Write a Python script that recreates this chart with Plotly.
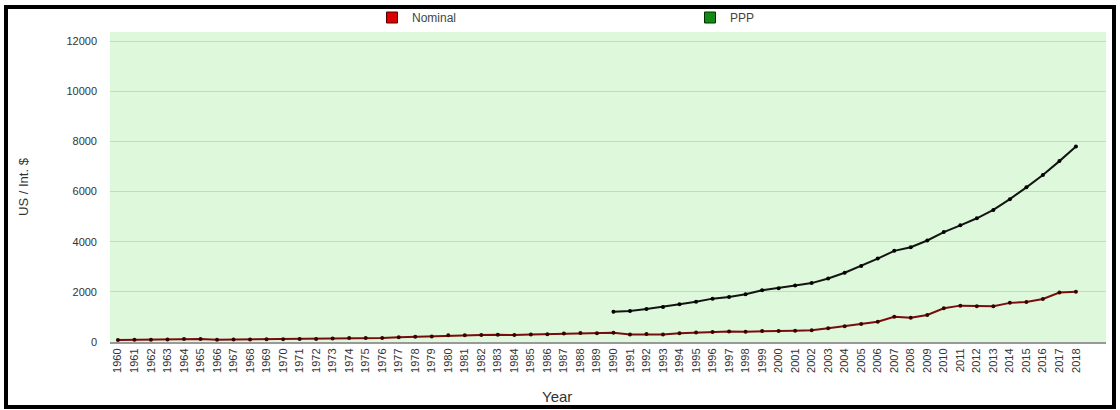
import plotly.graph_objects as go

years = list(range(1960, 2019))
nominal = [82, 85, 90, 101, 116, 119, 90, 96, 99, 107, 112, 118, 122, 143, 163, 158,
           161, 186, 205, 224, 267, 271, 275, 292, 277, 296, 310, 340, 354, 347, 368,
           303, 317, 301, 346, 374, 400, 415, 413, 442, 443, 452, 471, 547, 628, 715,
           807, 1005, 970, 1080, 1345, 1450, 1425, 1425, 1560, 1598, 1718, 1972, 2000]
ppp_years = list(range(1990, 2019))
ppp = [1206, 1234, 1314, 1395, 1503, 1608, 1729, 1797, 1905, 2066, 2147, 2251, 2348,
       2533, 2762, 3031, 3325, 3634, 3779, 4048, 4382, 4651, 4933, 5266, 5696, 6167,
       6661, 7212, 7790]
y_ticks = [0, 2000, 4000, 6000, 8000, 10000, 12000]

fig = go.Figure()
fig.add_trace(go.Scatter(x=years, y=nominal, mode="lines+markers", showlegend=False,
                         line=dict(color="#7a0c0c", width=2),
                         marker=dict(color="#3a0000", size=4)))
fig.add_trace(go.Scatter(x=ppp_years, y=ppp, mode="lines+markers", showlegend=False,
                         line=dict(color="#141414", width=2),
                         marker=dict(color="#000000", size=4)))
fig.add_trace(go.Scatter(x=[None], y=[None], mode="markers", name="Nominal",
                         marker=dict(symbol="square", size=11, color="#dd0000",
                                     line=dict(color="#500000", width=1))))
fig.add_trace(go.Scatter(x=[None], y=[None], mode="markers", name="PPP",
                         marker=dict(symbol="square", size=11, color="#138a13",
                                     line=dict(color="#003000", width=1))))

W, H = 1120, 410
ml, mr, mt, mb = 110, 14, 32, 68
pw, ph = W - ml - mr, H - mt - mb

def px_x(p):
    return (p - ml) / pw

def px_y(p):
    return (H - mb - p) / ph

fig.update_layout(
    width=W, height=H,
    margin=dict(l=ml, r=mr, t=mt, b=mb, autoexpand=False),
    paper_bgcolor="white",
    plot_bgcolor="#ddf8da",
    font=dict(family="Liberation Sans, Arial, sans-serif", color="#333333"),
    legend=dict(orientation="h", x=px_x(372), xanchor="left", y=1.0, yanchor="bottom",
                entrywidth=273, entrywidthmode="pixels", itemwidth=30,
                font=dict(size=12, color="#444444"), bgcolor="rgba(0,0,0,0)"),
    xaxis=dict(range=[1959.52, 2019.82], tickvals=years, ticktext=[str(y) for y in years],
               tickangle=-90, tickfont=dict(size=11, color="#333333"),
               showgrid=False, zeroline=False, showline=True, linecolor="#999999",
               linewidth=2, ticks="", fixedrange=True),
    yaxis=dict(range=[0, 12360], tickvals=y_ticks, ticktext=[str(v) for v in y_ticks],
               tickfont=dict(size=11, color="#333333"),
               showgrid=True, gridcolor="#bfdcbc", gridwidth=1, zeroline=False,
               showline=False, ticks="", ticklabelstandoff=12,
               title=dict(text="US / Int. $", font=dict(size=13, color="#333333"), standoff=34)),
    annotations=[dict(text="Year", xref="paper", yref="paper", x=px_x(557), y=px_y(396),
                      showarrow=False, font=dict(size=15, color="#333333"),
                      xanchor="center", yanchor="middle")],
    shapes=[dict(type="rect", xref="paper", yref="paper", x0=px_x(6), x1=px_x(1114),
                 y0=px_y(407), y1=px_y(7), line=dict(color="black", width=4),
                 fillcolor="rgba(0,0,0,0)", layer="above")],
)

fig.write_html("out.html", config={"displayModeBar": False},
               post_script="document.body.style.margin='0';document.body.style.overflow='hidden';")
